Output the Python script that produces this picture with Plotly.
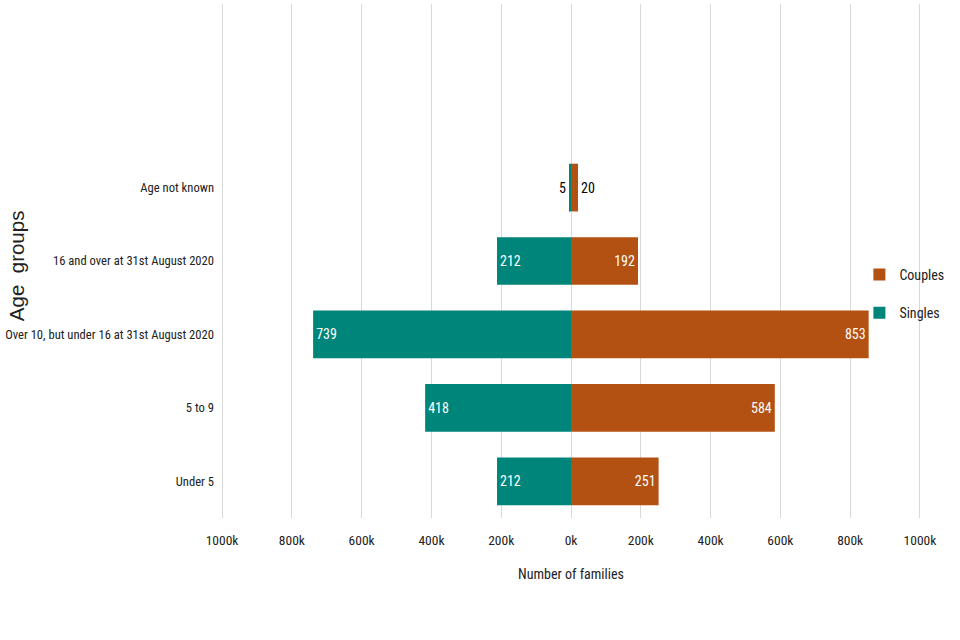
import plotly.graph_objects as go

categories = ["Under 5", "5 to 9", "Over 10, but under 16 at 31st August 2020",
              "16 and over at 31st August 2020", "Age not known"]
singles = [212, 418, 739, 212, 5]
couples = [251, 584, 853, 192, 20]
tick_values = [-1000, -800, -600, -400, -200, 0, 200, 400, 600, 800, 1000]
tick_labels = ["1000k", "800k", "600k", "400k", "200k", "0k", "200k", "400k", "600k", "800k", "1000k"]

narrow = "Roboto Condensed, Liberation Sans Narrow, sans-serif"
teal = "#00857A"
orange = "#B35112"
fs = 13.5

fig = go.Figure()
fig.add_trace(go.Bar(
    y=categories, x=couples, orientation="h", name="Couples",
    legendgroup="c",
    marker=dict(color=orange, line=dict(width=0)),
    text=[str(v) for v in couples], textposition="auto", insidetextanchor="end",
    insidetextfont=dict(color="white", size=14, family=narrow),
    outsidetextfont=dict(color="black", size=14, family=narrow),
    textangle=0, cliponaxis=False,
))
fig.add_trace(go.Bar(
    y=categories, x=[-v for v in singles], orientation="h", name="Singles",
    legendgroup="s",
    marker=dict(color=teal, line=dict(width=0)),
    text=[str(v) for v in singles], textposition="auto", insidetextanchor="end",
    insidetextfont=dict(color="white", size=14, family=narrow),
    outsidetextfont=dict(color="black", size=14, family=narrow),
    textangle=0, cliponaxis=False,
))

fig.add_annotation(
    text="Age  groups", xref="paper", yref="paper", x=(16 - 221) / 700, y=0.49,
    xanchor="center", yanchor="middle", textangle=-90, showarrow=False,
    font=dict(size=20.5, family="Liberation Sans, Arial, sans-serif", color="#222"),
)

fig.update_layout(
    width=960, height=640,
    margin=dict(l=221, r=39, t=4, b=122, autoexpand=False),
    barmode="relative", bargap=0.35,
    plot_bgcolor="white", paper_bgcolor="white",
    font=dict(family=narrow, size=fs, color="#222"),
    legend=dict(x=0.912, y=0.436, xanchor="left", yanchor="middle",
                traceorder="grouped", tracegroupgap=17,
                font=dict(size=14, family=narrow),
                itemwidth=30, bgcolor="rgba(0,0,0,0)"),
    xaxis=dict(range=[-1003, 1003], tickvals=tick_values, ticktext=tick_labels,
               showgrid=True, gridcolor="#d9d9d9", gridwidth=1,
               zeroline=True, zerolinecolor="#d9d9d9", zerolinewidth=1,
               showline=False, ticks="", ticklabelstandoff=12, automargin=False,
               tickfont=dict(size=13.5, family=narrow),
               title=dict(text="Number of families", font=dict(size=14, family=narrow), standoff=22)),
    yaxis=dict(range=[-0.5, 6.5], categoryorder="array", categoryarray=categories,
               showgrid=False, zeroline=False, showline=False, ticks="",
               tickfont=dict(size=12.6, family=narrow),
               ticklabelstandoff=6, automargin=False),
)
fig.write_html("out.html", config={"displayModeBar": False},
               post_script="document.body.style.margin='0';document.body.style.padding='0';")
